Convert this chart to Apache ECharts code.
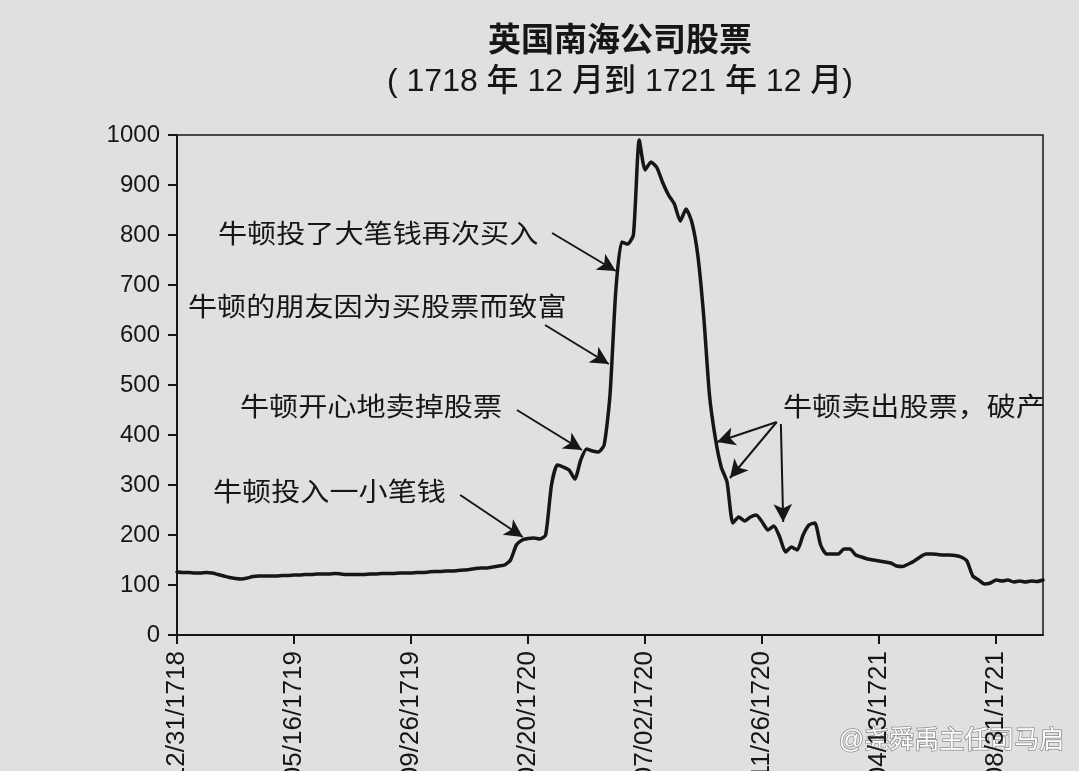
<!DOCTYPE html>
<html>
<head>
<meta charset="utf-8">
<script src="https://cdn.jsdelivr.net/npm/echarts@6/dist/echarts.min.js"></script>
<style>
  html, body { margin: 0; padding: 0; background: #dfe1de; }
  #main { width: 1079px; height: 771px; }
</style>
</head>
<body>
<div id="main"></div>
<script>
// 南海公司股价（读图估算），每个点为一个采样期
const prices = [
  126, 125, 125, 124, 124, 125, 124, 121, 118, 115,
  113, 112, 114, 117, 118, 118, 118, 118, 119, 119,
  120, 120, 121, 121, 122, 122, 122, 123, 122, 121,
  121, 121, 121, 122, 122, 123, 123, 123, 124, 124,
  124, 125, 125, 126, 127, 127, 128, 128, 129, 130,
  131, 133, 134, 134, 136, 138, 140, 150, 180, 190,
  193, 194, 192, 200, 300, 340, 336, 330, 312, 350,
  372, 368, 366, 380, 480, 690, 786, 782, 800, 990,
  930, 946, 935, 905, 880, 862, 828, 852, 825, 760,
  640, 480, 394, 336, 306, 224, 236, 228, 236, 240,
  226, 210, 218, 196, 166, 176, 170, 200, 220, 224,
  180, 162, 162, 162, 172, 172, 160, 156, 152, 150,
  148, 146, 144, 138, 137, 142, 148, 156, 162, 162,
  161, 160, 160, 159, 156, 148, 118, 110, 102, 104,
  110, 108, 110, 106, 108, 106, 108, 107, 110
]

// X轴刻度标签（每20个采样点一个）
const tickStep = 20
const xTickLabels = [
  '12/31/1718', '05/16/1719', '09/26/1719', '02/20/1720',
  '07/02/1720', '11/26/1720', '04/13/1721', '08/31/1721'
]

// 注释文字
const notes = [
  { text: '牛顿投了大笔钱再次买入', left: 218, top: 223 },
  { text: '牛顿的朋友因为买股票而致富', left: 188, top: 296 },
  { text: '牛顿开心地卖掉股票', left: 240, top: 396 },
  { text: '牛顿投入一小笔钱', left: 213, top: 481 },
  { text: '牛顿卖出股票，破产', left: 783, top: 396 }
]

// 箭头：[起点, 终点]，坐标为 [采样序号, 股价]
const arrows = [
  [[64.1, 804], [75.0, 728]],
  [[62.9, 620], [73.8, 542]],
  [[58.1, 450], [69.2, 370]],
  [[48.4, 280], [59.1, 196]],
  [[102.5, 426], [92.3, 386]],
  [[102.5, 426], [94.5, 314]],
  [[103.2, 422], [103.6, 226]]
]

const ink = '#161616'
const font = '"Liberation Sans", "Noto Sans CJK SC", sans-serif'

const chart = echarts.init(document.getElementById('main'))

chart.setOption({
  backgroundColor: '#dfe1de',
  title: {
    text: '英国南海公司股票',
    subtext: '( 1718 年 12 月到 1721 年 12 月)',
    left: 615,
    textAlign: 'center',
    top: 20,
    itemGap: 8,
    textStyle: { fontFamily: font, fontSize: 33, fontWeight: 'bold', color: ink },
    subtextStyle: { fontFamily: font, fontSize: 32, fontWeight: 500, color: ink }
  },
  grid: {
    left: 177,
    right: 36,
    top: 135,
    bottom: 136,
    outerBoundsMode: 'none', // 标签允许超出画布底部（原图被裁切）
    show: true,
    borderColor: ink,
    borderWidth: 1.5
  },
  xAxis: {
    type: 'value',
    min: 0,
    max: prices.length - 1,
    interval: tickStep,
    splitLine: { show: false },
    axisLine: { lineStyle: { color: ink, width: 2 } },
    axisTick: { length: 9, lineStyle: { color: ink, width: 2 } },
    axisLabel: {
      rotate: 90,
      margin: 16,
      fontFamily: font,
      fontSize: 26,
      color: ink,
      showMaxLabel: false,
      formatter: (v) => (v % tickStep === 0 ? xTickLabels[v / tickStep] || '' : '')
    }
  },
  yAxis: {
    type: 'value',
    min: 0,
    max: 1000,
    interval: 100,
    splitLine: { show: false },
    axisLine: { show: true, lineStyle: { color: ink, width: 2 } },
    axisTick: { show: true, length: 9, lineStyle: { color: ink, width: 2 } },
    axisLabel: {
      fontFamily: font,
      fontSize: 24,
      color: ink,
      margin: 17,
      formatter: (v) => String(v)
    }
  },
  series: [
    {
      type: 'line',
      data: prices.map((v, i) => [i, v]),
      symbol: 'none',
      smooth: 0.2,
      lineStyle: { color: ink, width: 3.5, join: 'round', cap: 'round' },
      silent: true,
      markLine: {
        silent: true,
        symbol: ['none', 'arrow'],
        symbolSize: [14, 18],
        label: { show: false },
        lineStyle: { color: ink, width: 2, type: 'solid' },
        data: arrows.map(([a, b]) => [{ coord: a }, { coord: b }])
      }
    }
  ],
  graphic: [
    ...notes.map((n) => ({
      type: 'text',
      left: n.left,
      top: n.top,
      scaleX: 1.12,
      style: { text: n.text, fontFamily: font, fontSize: 26, fill: ink }
    })),
    {
      type: 'text',
      right: 14,
      top: 728,
      style: {
        text: '@尧舜禹主任司马启',
        fontFamily: font,
        fontSize: 25,
        fill: '#ffffff',
        stroke: '#8a8c8a',
        lineWidth: 1.5
      }
    }
  ]
})

window.addEventListener('resize', () => chart.resize())
</script>
</body>
</html>
